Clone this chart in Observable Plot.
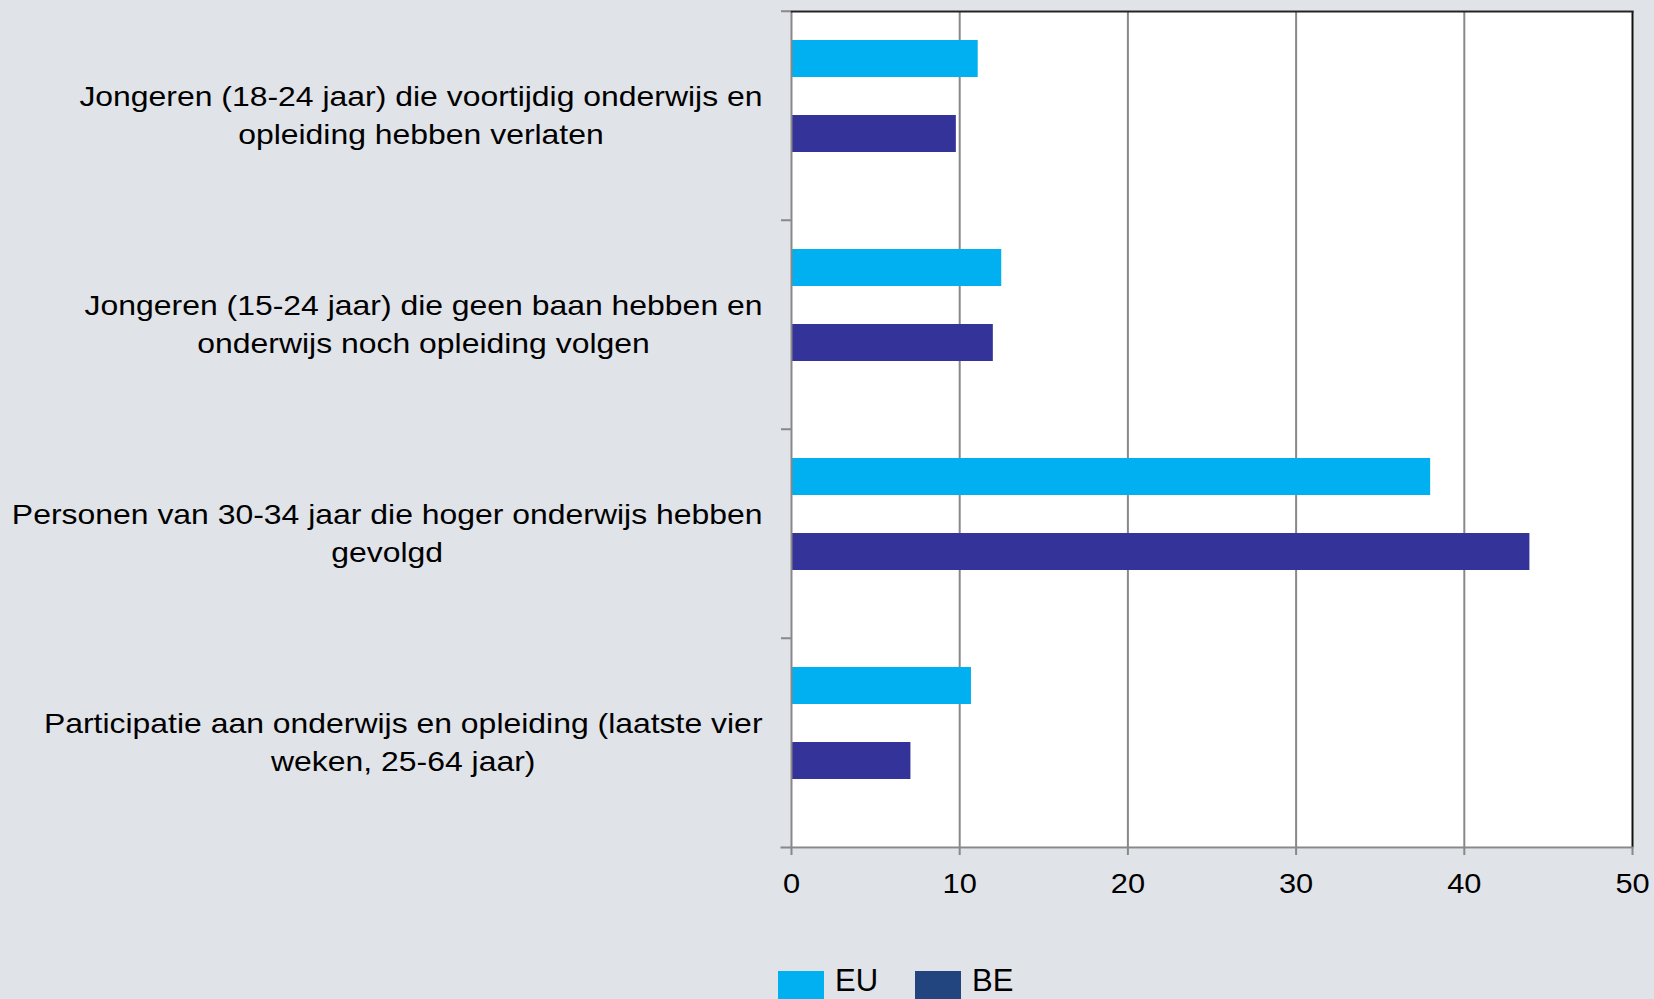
<!DOCTYPE html>
<html>
<head>
<meta charset="utf-8">
<script src="https://cdn.jsdelivr.net/npm/d3@7"></script>
<script src="https://cdn.jsdelivr.net/npm/@observablehq/plot@0.6"></script>
<style>
  html, body { margin: 0; padding: 0; background: #E0E3E8; overflow: hidden; }
  #chart svg { display: block; }
  .legend { display: flex; align-items: flex-start; margin-top: 41px; margin-left: 778px;
            font: 31px "Liberation Sans", Arial, sans-serif; color: #000; }
  .legend .item { display: flex; align-items: flex-start; margin-right: 37px; }
  .legend .sw { width: 46px; height: 28px; margin-right: 11px; }
  .legend .lb { line-height: normal; margin-top: -8px; }
</style>
</head>
<body>
<div id="chart"></div>
<div class="legend" id="legend"></div>
<script>
// ---- data ----
const categories = ["cat1", "cat2", "cat3", "cat4"];
const categoryLabels = [
  "Jongeren (18-24 jaar) die voortijdig onderwijs en\nopleiding hebben verlaten",
  "Jongeren (15-24 jaar) die geen baan hebben en\nonderwijs noch opleiding volgen",
  "Personen van 30-34 jaar die hoger onderwijs hebben\ngevolgd",
  "Participatie aan onderwijs en opleiding (laatste vier\nweken, 25-64 jaar)"
];
const series = ["EU", "BE"];
const euValues = [11.1, 12.5, 38.0, 10.7];
const beValues = [9.8, 12.0, 43.9, 7.1];
const xTicks = [0, 10, 20, 30, 40, 50];
const gridTicks = [10, 20, 30, 40];
const barColors = ["#00B0F0", "#333399"];
const legendColors = ["#00B0F0", "#22447F"];

// ---- table ----
const rows = categories.flatMap((c, i) => [
  {category: c, series: "EU", value: euValues[i]},
  {category: c, series: "BE", value: beValues[i]}
]);

// ---- layout ----
const W = 1654, H = 930, mL = 791, mR = 22, mT = 10, mB = 82;
const halfBand = (H - mT - mB) / categories.length / 2;
const fontFamily = '"Liberation Sans", Arial, sans-serif';
const labelFont = '28px "Liberation Sans"';
const labelGap = 29;
const labelStretch = 1.14;
const tickStretch = 1.1;

const ctx = document.createElement("canvas").getContext("2d");
ctx.font = labelFont;
const labelMarks = categories.map((c, i) => {
  const lines = categoryLabels[i].split("\n");
  const w = Math.max(...lines.map(l => ctx.measureText(l).width)) * labelStretch;
  return Plot.text([c], {
    fy: d => d,
    text: () => categoryLabels[i],
    frameAnchor: "left",
    textAnchor: "middle",
    lineAnchor: "middle",
    dx: -(labelGap + w / 2),
    dy: -3,
    fontSize: 28,
    lineHeight: 1.36,
    fill: "#000"
  });
});

const chart = Plot.plot({
  width: W,
  height: H,
  marginLeft: mL,
  marginRight: mR,
  marginTop: mT,
  marginBottom: mB,
  style: {background: "transparent", color: "#000", fontFamily},
  x: {domain: [0, 50], axis: null},
  y: {domain: series, axis: null, paddingInner: 0.513, paddingOuter: 0.635, align: 0.3},
  fy: {domain: categories, axis: null, padding: 0},
  color: {domain: series, range: barColors},
  marks: [
    Plot.frame({fill: "white", stroke: "none", insetTop: -1, insetBottom: -1}),
    Plot.gridX({ticks: gridTicks, stroke: "#888", strokeOpacity: 1, strokeWidth: 2}),
    Plot.barX(rows, {x: "value", y: "series", fy: "category", fill: "series"}),
    Plot.ruleX([0], {stroke: "#888", strokeWidth: 2}),
    Plot.ruleX([50], {stroke: "#111", strokeWidth: 2}),
    Plot.frame({anchor: "top", facetAnchor: "top", stroke: "#222", strokeWidth: 2}),
    Plot.frame({anchor: "bottom", facetAnchor: "bottom", stroke: "#888", strokeWidth: 2, insetLeft: -10}),
    Plot.axisFy({anchor: "left", label: null, ticks: categories, tickSize: 10, tickFormat: () => "", dy: -halfBand, stroke: "#888", strokeWidth: 2}),
    Plot.axisX({anchor: "bottom", label: null, ticks: xTicks, tickSize: 8, tickPadding: 18, fontSize: 28, stroke: "#888", strokeWidth: 2, fill: "#000"}),
    ...labelMarks
  ]
});
document.getElementById("chart").append(chart);

// widen the text horizontally, as in the reference
function stretch(sel, k) {
  chart.querySelectorAll(sel).forEach(t => {
    const spans = t.querySelectorAll("tspan");
    const parts = spans.length ? Array.from(spans) : [t];
    parts.forEach(p => {
      const L = p.getComputedTextLength();
      p.setAttribute("textLength", L * k);
      p.setAttribute("lengthAdjust", "spacingAndGlyphs");
    });
  });
}
stretch('g[aria-label="text"] text', labelStretch);
stretch('g[aria-label="x-axis tick label"] text', tickStretch);

// ---- legend ----
const legend = document.getElementById("legend");
series.forEach((s, i) => {
  const item = document.createElement("div");
  item.className = "item";
  const sw = document.createElement("div");
  sw.className = "sw";
  sw.style.background = legendColors[i];
  const lb = document.createElement("div");
  lb.className = "lb";
  lb.textContent = s;
  item.append(sw, lb);
  legend.append(item);
});
</script>
</body>
</html>
